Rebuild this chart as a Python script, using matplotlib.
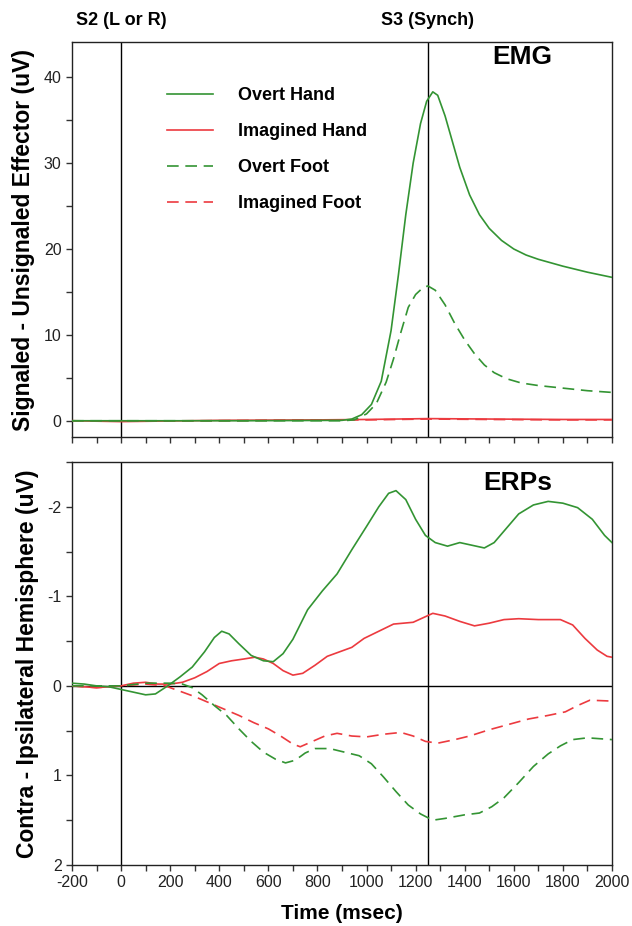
# EMG and ERP lateralization figure, two stacked panels
import numpy as np
import matplotlib
matplotlib.use('Agg')
import matplotlib.pyplot as plt
from matplotlib.ticker import MultipleLocator

plt.rcParams['font.family'] = ['Liberation Sans', 'DejaVu Sans']
plt.rcParams['axes.unicode_minus'] = False

GREEN = '#339433'
RED = '#ec3a3f'

# ---- EMG panel (signaled - unsignaled effector, uV) ----
emg_t_hand = [-200, 0, 500, 900, 940, 980, 1020, 1060, 1100, 1130, 1160, 1190, 1220, 1245,
              1270, 1290, 1320, 1350, 1380, 1420, 1460, 1500, 1550, 1600, 1650, 1700,
              1800, 1900, 2000]
emg_overt_hand = [0.0, 0.0, 0.0, 0.05, 0.2, 0.7, 1.9, 4.6, 10.5, 17.0, 24.0, 30.0, 34.6,
                  37.2, 38.3, 37.9, 35.5, 32.5, 29.5, 26.3, 24.0, 22.4, 21.0, 20.0, 19.3,
                  18.8, 18.0, 17.3, 16.7]

emg_t_foot = [-200, 0, 500, 900, 950, 1000, 1040, 1080, 1110, 1140, 1170, 1200, 1230, 1250,
              1280, 1320, 1360, 1400, 1440, 1480, 1520, 1570, 1630, 1700, 1800, 1900, 2000]
emg_overt_foot = [0.0, 0.0, 0.0, 0.0, 0.1, 0.8, 2.0, 4.5, 7.2, 10.3, 13.2, 14.7, 15.5, 15.7,
                  15.2, 13.5, 11.3, 9.4, 7.8, 6.5, 5.6, 4.9, 4.4, 4.1, 3.8, 3.5, 3.3]

emg_t_imag = [-200, 0, 400, 800, 1000, 1250, 1500, 1800, 2000]
emg_imag_hand = [0.0, -0.1, 0.05, 0.1, 0.15, 0.25, 0.2, 0.15, 0.15]
emg_imag_foot = [0.0, -0.05, 0.0, 0.1, 0.1, 0.2, 0.15, 0.1, 0.1]

# ---- ERP panel (contra - ipsilateral hemisphere, uV) ----
erp_t_oh = [-200, -150, -100, -50, 0, 50, 100, 140, 190, 240, 290, 340, 380, 410, 440, 480,
            530, 580, 620, 660, 700, 760, 820, 880, 940, 1000, 1050, 1090, 1120, 1160, 1200,
            1240, 1280, 1330, 1380, 1430, 1480, 1520, 1570, 1620, 1680, 1740, 1800, 1860,
            1920, 1970, 2000]
erp_overt_hand = [-0.03, -0.02, 0.0, 0.01, 0.04, 0.07, 0.1, 0.09, 0.0, -0.1, -0.21, -0.38,
                  -0.54, -0.61, -0.58, -0.47, -0.34, -0.28, -0.27, -0.36, -0.52, -0.85,
                  -1.06, -1.25, -1.52, -1.78, -2.0, -2.15, -2.18, -2.08, -1.86, -1.68, -1.6,
                  -1.56, -1.6, -1.57, -1.54, -1.6, -1.76, -1.92, -2.02, -2.06, -2.04, -1.99,
                  -1.86, -1.68, -1.6]

erp_t_ih = [-200, -100, 0, 50, 100, 150, 200, 250, 300, 350, 400, 450, 500, 545, 580, 620,
            660, 700, 740, 790, 840, 890, 940, 990, 1050, 1110, 1190, 1230, 1270, 1320, 1380,
            1440, 1500, 1560, 1620, 1700, 1790, 1840, 1890, 1940, 1980, 2000]
erp_imag_hand = [0.0, 0.02, 0.0, -0.03, -0.04, -0.02, -0.02, -0.04, -0.09, -0.16, -0.25,
                 -0.28, -0.3, -0.32, -0.3, -0.25, -0.17, -0.12, -0.14, -0.23, -0.33, -0.38,
                 -0.43, -0.53, -0.61, -0.69, -0.71, -0.76, -0.81, -0.78, -0.72, -0.67, -0.7,
                 -0.74, -0.75, -0.74, -0.74, -0.68, -0.53, -0.4, -0.33, -0.32]

erp_t_of = [-200, -100, 0, 100, 200, 250, 290, 330, 380, 430, 480, 530, 580, 630, 670, 710,
            750, 790, 850, 910, 970, 1020, 1070, 1120, 1170, 1220, 1270, 1320, 1400, 1460,
            1510, 1560, 1620, 1680, 1740, 1790, 1840, 1900, 2000]
erp_overt_foot = [0.0, 0.0, 0.0, -0.03, -0.03, -0.02, 0.02, 0.1, 0.22, 0.33, 0.48, 0.62,
                  0.74, 0.82, 0.86, 0.83, 0.75, 0.7, 0.7, 0.74, 0.78, 0.87, 1.02, 1.18, 1.33,
                  1.43, 1.5, 1.48, 1.44, 1.42, 1.35, 1.25, 1.08, 0.9, 0.76, 0.67, 0.6, 0.58,
                  0.6]

erp_t_if = [-200, -100, 0, 100, 180, 240, 300, 360, 420, 480, 540, 600, 650, 700, 730, 780,
            830, 880, 940, 1000, 1070, 1140, 1190, 1240, 1290, 1360, 1420, 1500, 1580, 1660,
            1740, 1810, 1860, 1910, 2000]
erp_imag_foot = [0.0, 0.02, 0.0, -0.02, 0.0, 0.06, 0.12, 0.19, 0.26, 0.33, 0.41, 0.48,
                 0.56, 0.65, 0.68, 0.62, 0.56, 0.53, 0.56, 0.57, 0.54, 0.52, 0.56, 0.62,
                 0.64, 0.6, 0.56, 0.49, 0.43, 0.37, 0.33, 0.29, 0.22, 0.16, 0.17]

time_ticks = np.arange(-200, 2001, 200)
s2_time = 0
s3_time = 1250

fig = plt.figure(figsize=(6.32, 9.26), dpi=100)
ax1 = fig.add_axes([0.1139, 0.528, 0.8544, 0.4266])
ax2 = fig.add_axes([0.1139, 0.0659, 0.8544, 0.4352])

dash = (0, (7, 4))
lw = 1.2

# top panel
ax1.plot(emg_t_imag, emg_imag_foot, color=RED, lw=lw, ls=dash, label='Imagined Foot', zorder=3)
ax1.plot(emg_t_imag, emg_imag_hand, color=RED, lw=lw, label='Imagined Hand', zorder=3)
ax1.plot(emg_t_foot, emg_overt_foot, color=GREEN, lw=lw, ls=dash, label='Overt Foot', zorder=3)
ax1.plot(emg_t_hand, emg_overt_hand, color=GREEN, lw=lw, label='Overt Hand', zorder=3)
ax1.set_ylim(-1.9, 44.1)
ax1.yaxis.set_major_locator(MultipleLocator(10))
ax1.yaxis.set_minor_locator(MultipleLocator(5))
ax1.set_ylabel('Signaled - Unsignaled Effector (uV)', fontsize=16.5, fontweight='bold', labelpad=6)
ax1.text(0.833, 0.962, 'EMG', transform=ax1.transAxes, ha='center', va='center',
         fontsize=19, fontweight='bold')

handles, labels = ax1.get_legend_handles_labels()
order = [3, 1, 2, 0]
ax1.legend([handles[i] for i in order], [labels[i] for i in order],
           loc='upper left', bbox_to_anchor=(0.16, 0.908), frameon=False, borderpad=0,
           handlelength=2.5, handletextpad=1.4, labelspacing=1.05,
           prop={'size': 13, 'weight': 'bold'})

# bottom panel
ax2.axhline(0, color='black', lw=1.0, zorder=2)
ax2.plot(erp_t_if, erp_imag_foot, color=RED, lw=lw, ls=dash, zorder=3)
ax2.plot(erp_t_ih, erp_imag_hand, color=RED, lw=lw, zorder=3)
ax2.plot(erp_t_of, erp_overt_foot, color=GREEN, lw=lw, ls=dash, zorder=3)
ax2.plot(erp_t_oh, erp_overt_hand, color=GREEN, lw=lw, zorder=3)
ax2.set_ylim(2, -2.5)
ax2.yaxis.set_major_locator(MultipleLocator(1))
ax2.yaxis.set_minor_locator(MultipleLocator(0.5))
ax2.set_ylabel('Contra - Ipsilateral Hemisphere (uV)', fontsize=16.5, fontweight='bold', labelpad=6)
ax2.set_xlabel('Time (msec)', fontsize=15, fontweight='bold', labelpad=10)
ax2.text(0.826, 0.948, 'ERPs', transform=ax2.transAxes, ha='center', va='center',
         fontsize=19, fontweight='bold')

for ax in (ax1, ax2):
    ax.set_xlim(-200, 2000)
    ax.axvline(s2_time, color='black', lw=1.0, zorder=2)
    ax.axvline(s3_time, color='black', lw=1.0, zorder=2)
    ax.xaxis.set_major_locator(MultipleLocator(200))
    ax.xaxis.set_minor_locator(MultipleLocator(100))
    ax.tick_params(which='both', direction='out', length=4, width=1, labelsize=11.5,
                   color='#333333', labelcolor='#222222')
    for sp in ax.spines.values():
        sp.set_linewidth(1.0)
        sp.set_color('#222222')

ax1.tick_params(axis='x', labelbottom=False)
ax2.set_xticks(time_ticks)
ax2.set_xticklabels([str(t) for t in time_ticks])

fig.text(ax1.transData.transform((s2_time, 0))[0] / fig.bbox.width, 0.978, 'S2 (L or R)',
         ha='center', va='center', fontsize=13, fontweight='bold')
fig.text(ax1.transData.transform((s3_time, 0))[0] / fig.bbox.width, 0.978, 'S3 (Synch)',
         ha='center', va='center', fontsize=13, fontweight='bold')

fig.savefig('out.png', dpi=100)
